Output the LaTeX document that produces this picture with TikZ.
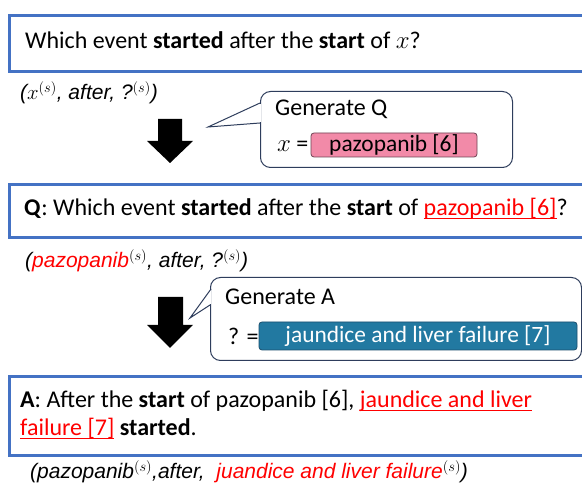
\documentclass[tikz,border=0pt]{standalone}
\usepackage{fontspec}
\setmainfont{Carlito}
\newfontfamily\tupfont{Liberation Sans}
\definecolor{boxblue}{HTML}{4472C4}
\definecolor{bubbleline}{HTML}{2E3D5C}
\definecolor{pinkfill}{HTML}{F28AA8}
\definecolor{pinkline}{HTML}{6E4454}
\definecolor{tealfill}{HTML}{2279A1}
\definecolor{tealline}{HTML}{1B4F6E}
\definecolor{hired}{HTML}{FF0000}
% red text with a red rule a little below the baseline
\newsavebox{\ulbox}
\newcommand{\redul}[1]{{\color{hired}\sbox{\ulbox}{#1}\rlap{\rule[-3.5pt]{\wd\ulbox}{1.3pt}}\usebox{\ulbox}}}
\tikzset{
  main/.style={font=\fontsize{24}{28}\selectfont, inner sep=0pt, anchor=base west},
  tup/.style={font=\tupfont\itshape\fontsize{21}{24}\selectfont, inner sep=0pt, anchor=base west},
  bluebox/.style={draw=boxblue, line width=3pt, anchor=north west, inner sep=0pt},
  bubble/.style={draw=bubbleline, line width=1pt, rounded corners=10pt, fill=white,
                 anchor=north west, inner sep=0pt},
  pointer/.style={draw=bubbleline, line width=1pt, line join=miter},
  valpink/.style={draw=pinkline, fill=pinkfill, line width=0.8pt, rounded corners=3pt,
                  inner sep=0pt, font=\fontsize{23.4}{28}\selectfont},
  valteal/.style={draw=tealline, fill=tealfill, line width=0.8pt, rounded corners=3pt,
                  inner sep=0pt, text=white, font=\fontsize{23.4}{28}\selectfont},
  bigarrow/.style={fill=black},
}
\begin{document}
\begin{tikzpicture}[x=1pt, y=-1pt]
\useasboundingbox[fill=white] (0,0) rectangle (582,486);

% ---- template question ----
\node[bluebox, minimum width=590pt, minimum height=56pt] (b1) at (8,14) {};
\node[main] (t1) at (25,49) {Which event \textbf{started} after the \textbf{start} of $x$?};
\node[tup] (u1) at (20,100) {($x^{(s)}$, after, ?$^{(s)}$)};

% ---- Generate Q bubble ----
\node[bubble, minimum width=252pt, minimum height=76pt] (cq) at (260,91) {};
\coordinate (cqtip) at (208,127);
\fill[white] (258.6,103.8) rectangle (261.4,122.2);
\draw[pointer] (260,103) -- (cqtip) -- (260,123);
\node[main] (gq) at (275,116) {Generate Q};
\node[main] (xq) at (277,152) {$x$ =};
\node[valpink, minimum width=166pt, minimum height=24pt] (pq) at (394,145) {pazopanib [6]};

% ---- down arrow 1 ----
\fill[bigarrow] (158,119) -- (182,119) -- (182,141) -- (193,141) -- (170,163)
   -- (147,141) -- (158,141) -- cycle;

% ---- instantiated question ----
\node[bluebox, minimum width=590pt, minimum height=53pt] (b2) at (8,183) {};
\node[main] (t2) at (24,216) {\textbf{Q}: Which event \textbf{started} after the \textbf{start} of \redul{pazopanib [6]}?};
\node[tup] (u2) at (25,268) {({\color{hired}pazopanib}$^{(s)}$, after, ?$^{(s)}$)};

% ---- Generate A bubble ----
\node[bubble, minimum width=371pt, minimum height=83pt] (ca) at (210,277) {};
\coordinate (catip) at (190,318);
\fill[white] (208.6,289.8) rectangle (211.4,304.2);
\draw[pointer] (211,289) -- (catip) -- (210,305);
\node[main] (ga) at (225,305) {Generate A};
\node[main] (qa) at (228,345) {? =};
\node[valteal, minimum width=318pt, minimum height=28pt] (pa) at (418,336) {jaundice and liver failure [7]};

% ---- down arrow 2 ----
\fill[bigarrow] (158,297) -- (183,297) -- (183,325) -- (193,325) -- (170,348)
   -- (147,325) -- (158,325) -- cycle;

% ---- answer ----
\node[bluebox, minimum width=590pt, minimum height=79pt] (b3) at (8,375) {};
\node[main] (t3a) at (20,408) {\textbf{A}: After the \textbf{start} of pazopanib [6], \redul{jaundice and liver}};
\node[main] (t3b) at (20,436) {\redul{failure [7]} \textbf{started}.};
\node[tup] (u3) at (30,479) {(pazopanib$^{(s)}$,after, \ {\color{hired}juandice and liver failure}$^{(s)}$)};
\end{tikzpicture}
\end{document}
